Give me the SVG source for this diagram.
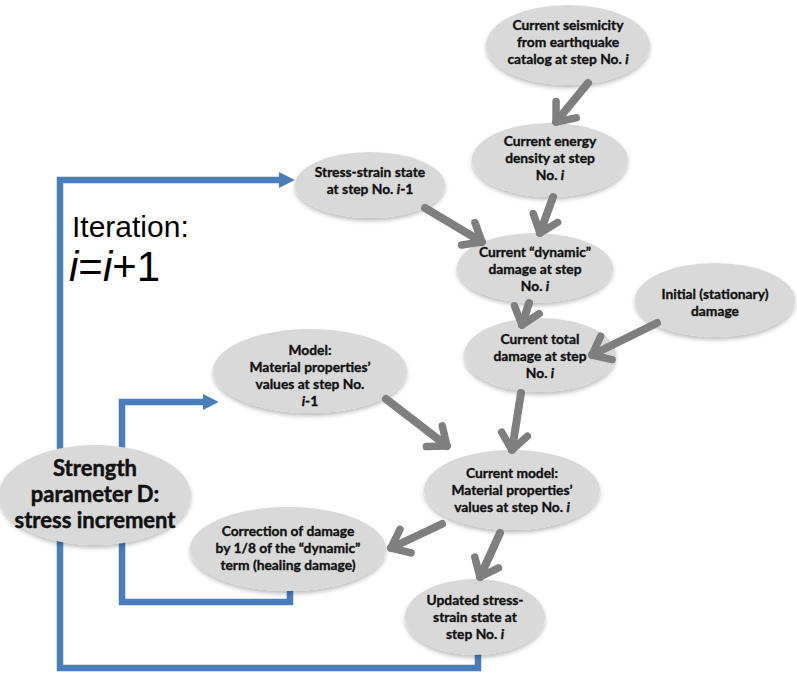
<svg xmlns="http://www.w3.org/2000/svg" width="797" height="689" viewBox="0 0 797 689">
<style>
.node ellipse{fill:#d9d9d9;filter:url(#sh)}
.t{font-family:Lato,"Open Sans","Liberation Sans",sans-serif;font-weight:bold;font-size:13.8px;fill:#111;stroke:#111;stroke-width:0.35;text-anchor:middle}
.big{font-size:22px;stroke-width:0.5}
.ga{stroke:#7f7f7f;stroke-width:8;fill:none;stroke-linecap:round;marker-end:url(#chev)}
.bl{stroke:#4a7ebb;stroke-width:6.5;fill:none}
.it{font-family:"Liberation Sans",Arial,sans-serif;fill:#000}
</style>
<defs>
<filter id="sh" x="-20%" y="-20%" width="140%" height="150%">
<feDropShadow dx="0" dy="3" stdDeviation="2" flood-color="#000" flood-opacity="0.25"/>
</filter>
<marker id="chev" viewBox="-22 -18 26 36" markerWidth="26" markerHeight="36" refX="0" refY="0" orient="auto" markerUnits="userSpaceOnUse">
<path d="M-16,-13 L0,0 L-16,13" fill="none" stroke="#7f7f7f" stroke-width="7.5" stroke-linecap="round" stroke-linejoin="round"/>
</marker>
<marker id="tri" viewBox="0 0 10 10" markerWidth="16" markerHeight="16" refX="2" refY="5" orient="auto" markerUnits="userSpaceOnUse">
<path d="M0,0 L10,5 L0,10 Z" fill="#4a7ebb"/>
</marker>
</defs>
<rect width="797" height="689" fill="#fff"/>

<g id="connectors">
<polyline class="bl" points="478,648 478,668 60,668 60,180 282,180" marker-end="url(#tri)"/>
<polyline class="bl" points="290,588 290,602 122,602 122,402 206,402" marker-end="url(#tri)"/>
</g>

<g id="iteration">
<text class="it" x="72" y="237" font-size="30">Iteration:</text>
<text class="it" x="69" y="281" font-size="42"><tspan font-style="italic">i</tspan>=<tspan font-style="italic">i</tspan>+1</text>
</g>

<g id="n-seismicity" class="node">
<ellipse cx="568" cy="45" rx="82" ry="40"/>
<text class="t" x="568" y="30">Current seismicity</text>
<text class="t" x="568" y="47">from earthquake</text>
<text class="t" x="568" y="64">catalog at step No.  <tspan font-style="italic">i</tspan></text>
</g>
<g id="n-energy" class="node">
<ellipse cx="550" cy="160" rx="78" ry="37"/>
<text class="t" x="550" y="146">Current energy</text>
<text class="t" x="550" y="163">density at step</text>
<text class="t" x="550" y="180">No. <tspan font-style="italic">i</tspan></text>
</g>
<g id="n-stress-prev" class="node">
<ellipse cx="370" cy="185" rx="75" ry="33"/>
<text class="t" x="370" y="177">Stress-strain state</text>
<text class="t" x="370" y="194">at step No. <tspan font-style="italic">i</tspan>-1</text>
</g>
<g id="n-dynamic" class="node">
<ellipse cx="535" cy="268" rx="78" ry="35"/>
<text class="t" x="535" y="257">Current “dynamic”</text>
<text class="t" x="535" y="274">damage at  step</text>
<text class="t" x="535" y="291">No. <tspan font-style="italic">i</tspan></text>
</g>
<g id="n-initial" class="node">
<ellipse cx="715" cy="300" rx="80" ry="37"/>
<text class="t" x="715" y="299">Initial (stationary)</text>
<text class="t" x="715" y="316">damage</text>
</g>
<g id="n-total" class="node">
<ellipse cx="540" cy="355" rx="76" ry="37"/>
<text class="t" x="540" y="344">Current total</text>
<text class="t" x="540" y="361">damage at step</text>
<text class="t" x="540" y="378">No. <tspan font-style="italic">i</tspan></text>
</g>
<g id="n-model-prev" class="node">
<ellipse cx="310" cy="371" rx="97" ry="42"/>
<text class="t" x="310" y="355">Model:</text>
<text class="t" x="310" y="372">Material properties’</text>
<text class="t" x="310" y="389">values at step No.</text>
<text class="t" x="310" y="406"><tspan font-style="italic">i</tspan>-1</text>
</g>
<g id="n-model-cur" class="node">
<ellipse cx="512" cy="490" rx="88" ry="40"/>
<text class="t" x="512" y="478">Current model:</text>
<text class="t" x="512" y="495">Material properties’</text>
<text class="t" x="512" y="512">values at step No. <tspan font-style="italic">i</tspan></text>
</g>
<g id="n-strength" class="node">
<ellipse cx="95" cy="495" rx="96" ry="50"/>
<text class="t big" x="95" y="476">Strength</text>
<text class="t big" x="95" y="502">parameter D:</text>
<text class="t big" x="95" y="528">stress increment</text>
</g>
<g id="n-correction" class="node">
<ellipse cx="288" cy="549" rx="98" ry="42"/>
<text class="t" x="288" y="536">Correction of damage</text>
<text class="t" x="288" y="553">by 1/8 of the “dynamic”</text>
<text class="t" x="288" y="570">term (healing damage)</text>
</g>
<g id="n-updated" class="node">
<ellipse cx="475" cy="617" rx="70" ry="38"/>
<text class="t" x="475" y="605">Updated stress-</text>
<text class="t" x="475" y="622">strain state at</text>
<text class="t" x="475" y="639">step No. <tspan font-style="italic">i</tspan></text>
</g>

<g id="arrows">
<line class="ga" x1="588" y1="83" x2="556" y2="122"/>
<line class="ga" x1="553" y1="197" x2="540" y2="233"/>
<line class="ga" x1="425" y1="208" x2="482" y2="242"/>
<line class="ga" x1="529" y1="303" x2="522" y2="325"/>
<line class="ga" x1="657" y1="323" x2="592" y2="355"/>
<line class="ga" x1="521" y1="393" x2="512" y2="450"/>
<line class="ga" x1="386" y1="399" x2="447" y2="446"/>
<line class="ga" x1="442" y1="524" x2="391" y2="548"/>
<line class="ga" x1="500" y1="533" x2="480" y2="577"/>
</g>
</svg>
